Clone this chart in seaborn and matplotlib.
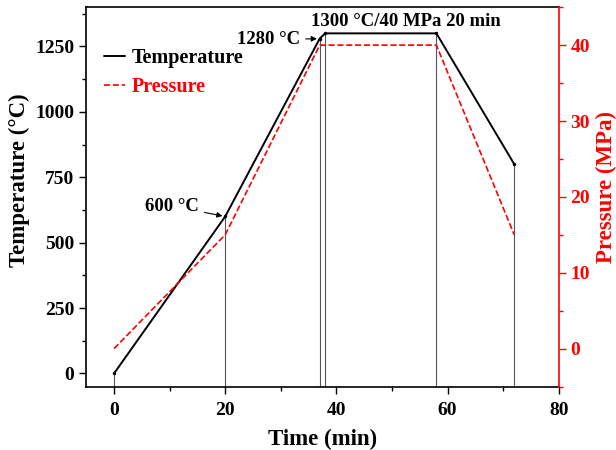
import seaborn as sns
import pandas as pd
import matplotlib.pyplot as plt
from matplotlib.ticker import MultipleLocator

# process schedule
time_temp = [0, 20, 37, 38, 58, 72]
temperature = [0, 600, 1280, 1300, 1300, 800]
time_pres = [0, 20, 37, 58, 72]
pressure = [0, 15, 40, 40, 15]

df_t = pd.DataFrame({'Time': time_temp, 'Temperature': temperature})
df_p = pd.DataFrame({'Time': time_pres, 'Pressure': pressure})

sns.set_style("ticks")
plt.rcParams['font.family'] = ['Liberation Serif', 'DejaVu Serif']
plt.rcParams['font.weight'] = 'bold'
plt.rcParams['axes.labelweight'] = 'bold'
plt.rcParams['text.color'] = 'black'
plt.rcParams['axes.labelcolor'] = 'black'
plt.rcParams['xtick.color'] = 'black'
plt.rcParams['ytick.color'] = 'black'
plt.rcParams['axes.edgecolor'] = 'black'
plt.rcParams['xtick.direction'] = 'out'
plt.rcParams['ytick.direction'] = 'out'

fig, ax = plt.subplots(figsize=(6.16, 4.5), dpi=100)
fig.subplots_adjust(left=0.14, right=0.907, top=0.984, bottom=0.141)
ax2 = ax.twinx()

# thin guide lines from the x axis up to each set point
ax.vlines(df_t['Time'], -50, df_t['Temperature'], color='#555555', lw=0.8, zorder=1)

sns.lineplot(data=df_t, x='Time', y='Temperature', ax=ax, color='black', lw=1.4,
             marker='o', markersize=2.5, markeredgewidth=0, label='Temperature', legend=False)
sns.lineplot(data=df_p, x='Time', y='Pressure', ax=ax2, color='red', lw=1.2,
             linestyle='--', label='Pressure', legend=False)

ax.set_xlim(-5, 80)
ax.set_ylim(-50, 1400)
ax2.set_ylim(-5, 45)

ax.xaxis.set_major_locator(MultipleLocator(20))
ax.xaxis.set_minor_locator(MultipleLocator(10))
ax.yaxis.set_major_locator(MultipleLocator(250))
ax.yaxis.set_minor_locator(MultipleLocator(125))
ax2.yaxis.set_major_locator(MultipleLocator(10))
ax2.yaxis.set_minor_locator(MultipleLocator(5))

ax.set_xlabel('Time (min)', fontsize=16.5, fontweight='bold', labelpad=7)
ax.set_ylabel('Temperature (°C)', fontsize=16.5, fontweight='bold')
ax2.set_ylabel('Pressure (MPa)', fontsize=16.5, fontweight='bold', color='red')
ax.yaxis.label.set_y(0.545)
ax2.yaxis.label.set_y(0.525)

ax.tick_params(axis='both', which='major', labelsize=14, length=5, width=1)
ax.tick_params(axis='x', which='major', pad=6)
ax.tick_params(axis='both', which='minor', length=3, width=1)
ax2.tick_params(axis='y', which='major', labelsize=14, length=5, width=1, colors='red')
ax2.tick_params(axis='y', which='minor', length=3, width=1, colors='red')
for lab in ax.get_xticklabels() + ax.get_yticklabels() + ax2.get_yticklabels():
    lab.set_fontweight('bold')

for s in ['left', 'bottom', 'top']:
    ax.spines[s].set_linewidth(1.2)
ax.spines['right'].set_visible(False)
ax2.spines['right'].set_color('red')
ax2.spines['right'].set_linewidth(1.2)
ax2.spines['left'].set_visible(False)
ax2.spines['top'].set_visible(False)
ax2.spines['bottom'].set_visible(False)

h1, l1 = ax.get_legend_handles_labels()
h2, l2 = ax2.get_legend_handles_labels()
leg = ax.legend(h1 + h2, l1 + l2, loc='upper left', frameon=False,
                handlelength=1.0, handletextpad=0.35, labelspacing=0.45,
                bbox_to_anchor=(0.0, 0.94), prop={'weight': 'bold', 'size': 14.5})
leg.get_texts()[1].set_color('red')
for ln in leg.get_lines():
    ln.set_marker('')

arrow = dict(arrowstyle='-|>', color='black', lw=0.8, mutation_scale=8)
ax.annotate('600 °C', xy=(20, 600), xytext=(15.2, 640), ha='right', va='center',
            fontsize=13.5, fontweight='bold', arrowprops=arrow)
ax.annotate('1280 °C', xy=(37, 1280), xytext=(33.4, 1275), ha='right', va='center',
            fontsize=13.5, fontweight='bold', arrowprops=arrow)
ax.text(52.5, 1345, '1300 °C/40 MPa 20 min', ha='center', va='center',
        fontsize=13.5, fontweight='bold')

plt.savefig('out.png', dpi=100)
